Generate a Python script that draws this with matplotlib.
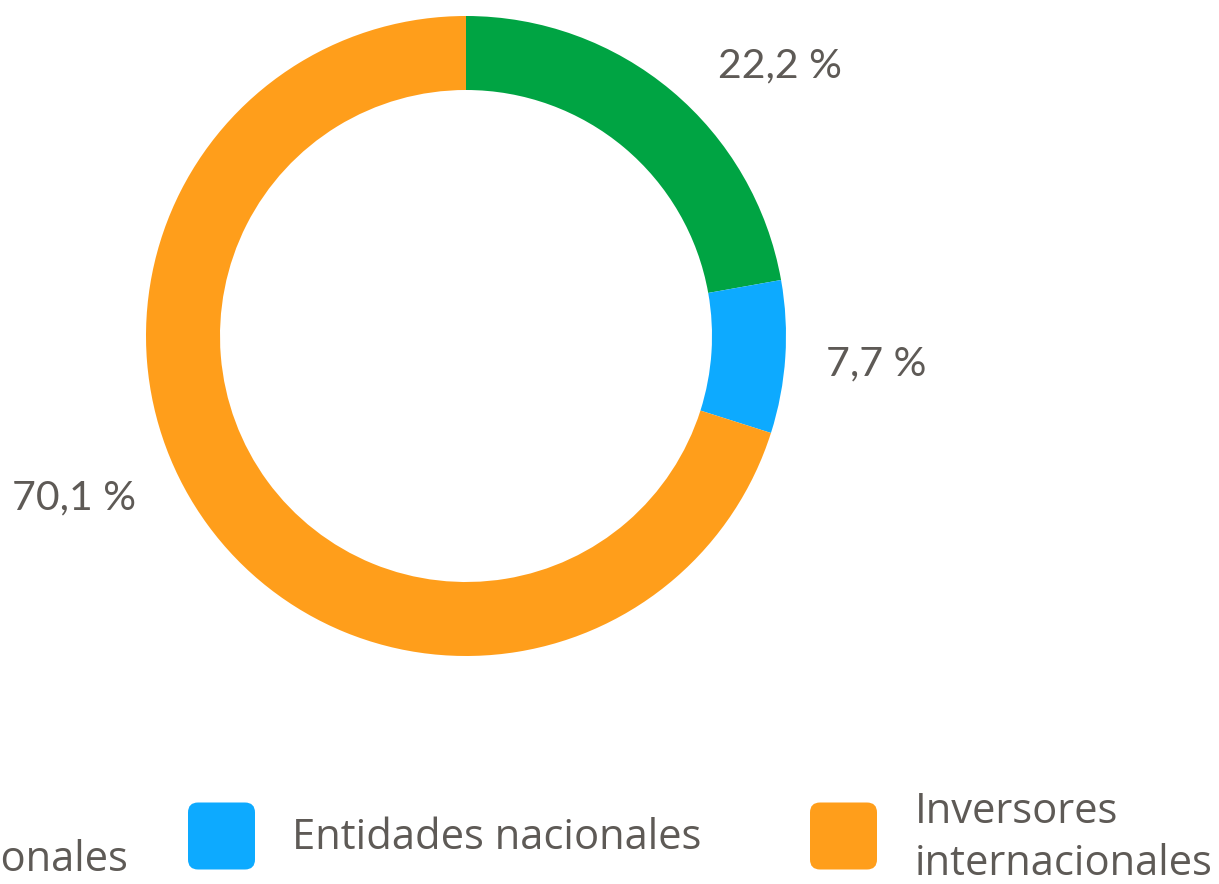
import matplotlib
matplotlib.use("Agg")
import matplotlib.pyplot as plt
from matplotlib.patches import FancyBboxPatch

# ---- data ----
categories = ["Inversores nacionales", "Entidades nacionales", "Inversores internacionales"]
legend_labels = ["Inversores nacionales", "Entidades nacionales", "Inversores\ninternacionales"]
values = [22.2, 7.7, 70.1]
value_labels = ["22,2 %", "7,7 %", "70,1 %"]
colors = ["#00A443", "#0DAAFF", "#FF9E1B"]

TEXT = "#5E5A56"
W, H = 1219, 884
plt.rcParams['font.family'] = ['Lato', 'DejaVu Sans']

fig = plt.figure(figsize=(W / 100, H / 100), dpi=100)
ax = fig.add_axes([0, 0, 1, 1])

def py(y):
    return H - y

# donut
cx, cy, R = 466, 336, 320
ax.pie(values, colors=colors, startangle=90, counterclock=False,
       center=(cx, py(cy)), radius=R,
       wedgeprops=dict(width=74, edgecolor='none', linewidth=0),
       frame=True)
ax.set_xlim(0, W)
ax.set_ylim(0, H)
ax.set_aspect('equal')
ax.axis('off')

# value labels
label_pos = [(718, 66), (826, 364), (12, 498)]
for (x, y), t in zip(label_pos, value_labels):
    ax.text(x, py(y), t, fontsize=29.5, color=TEXT, ha='left', va='center')

# legend
sq = 67
LEG_FONT = ['Open Sans', 'DejaVu Sans']
# square x, square center y, text x, text center y, alignment
leg_items = [
    (-330, 836, 128, 860, 'right'),   # item clipped at the left edge
    (188, 836, 292, 838, 'left'),
    (810, 836, 915, 838, 'left'),
]
for (sx, sy, tx, ty, ha), lab, col in zip(leg_items, legend_labels, colors):
    box = FancyBboxPatch((sx + 10, py(sy) - sq / 2 + 10), sq - 20, sq - 20,
                         boxstyle="round,pad=10", fc=col, ec='none')
    ax.add_patch(box)
    ax.text(tx, py(ty), lab, fontsize=30, color=TEXT, ha=ha, va='center',
            linespacing=1.33, family=LEG_FONT)

fig.savefig("out.png", dpi=100)
